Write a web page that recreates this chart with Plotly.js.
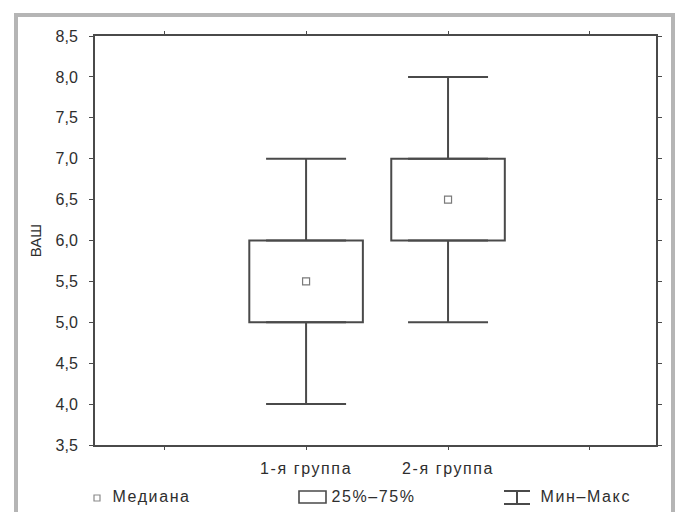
<!DOCTYPE html>
<html>
<head>
<meta charset="utf-8">
<script src="https://cdn.plot.ly/plotly-3.0.1.min.js"></script>
<style>
  html, body { margin: 0; padding: 0; background: #fff; overflow: hidden; }
  #wrap { position: relative; width: 681px; height: 512px; }
  #chart { position: absolute; left: 0; top: 0; width: 681px; height: 512px; }
  #frame { position: absolute; left: 14px; top: 13px; width: 653px; height: 520px;
           border: 4px solid #b5b5b5; pointer-events: none; }
  #chart .xtick text, #chart .annotation-text { letter-spacing: 1.6px; }
</style>
</head>
<body>
<div id="wrap">
  <div id="chart"></div>
  <div id="frame"></div>
</div>
<script>
// ---- data ----
const categories = ['1-я группа', '2-я группа'];
const minVals    = [4.0, 5.0];
const q1Vals     = [5.0, 6.0];
const medianVals = [5.5, 6.5];
const q3Vals     = [6.0, 7.0];
const maxVals    = [7.0, 8.0];
const yTickVals  = [3.5, 4.0, 4.5, 5.0, 5.5, 6.0, 6.5, 7.0, 7.5, 8.0, 8.5];
const yTitle     = 'ВАШ';
const legendLabels = ['Медиана', '25%–75%', 'Мин–Макс'];

// ---- layout constants ----
const W = 681, H = 512;
const M = { l: 95, r: 25, t: 36, b: 67 };
const PW = W - M.l - M.r, PH = H - M.t - M.b;
const px2x = p => (p - M.l) / PW;
const px2y = p => (H - M.b - p) / PH;

const lineCol = '#4a4a4a';
const textCol = '#2e2e2e';
const FONT = 'Liberation Sans, Arial, sans-serif';

const xs = categories.map((c, i) => i);

const traces = [
  { // interquartile boxes
    type: 'bar', x: xs, base: q1Vals,
    y: q3Vals.map((v, i) => v - q1Vals[i]),
    width: 0.8,
    marker: { color: '#ffffff', line: { color: lineCol, width: 2 } },
    hoverinfo: 'skip', showlegend: false
  },
  { // upper whisker
    type: 'scatter', mode: 'markers', x: xs, y: q3Vals,
    marker: { color: 'rgba(0,0,0,0)', size: 1 },
    error_y: { type: 'data', symmetric: false,
               array: maxVals.map((v, i) => v - q3Vals[i]),
               arrayminus: q3Vals.map(() => 0),
               width: 40, thickness: 2, color: lineCol },
    hoverinfo: 'skip', showlegend: false
  },
  { // lower whisker
    type: 'scatter', mode: 'markers', x: xs, y: q1Vals,
    marker: { color: 'rgba(0,0,0,0)', size: 1 },
    error_y: { type: 'data', symmetric: false,
               array: q1Vals.map(() => 0),
               arrayminus: q1Vals.map((v, i) => v - minVals[i]),
               width: 40, thickness: 2, color: lineCol },
    hoverinfo: 'skip', showlegend: false
  },
  { // medians
    type: 'scatter', mode: 'markers', x: xs, y: medianVals,
    marker: { symbol: 'square-open', size: 7, color: '#7a7a7a', line: { width: 1.2, color: '#7a7a7a' } },
    hoverinfo: 'skip', showlegend: false
  }
];

// custom legend (bottom row)
const legY = 497;
const shapes = [
  { type: 'rect', xref: 'paper', yref: 'paper',
    x0: px2x(94), x1: px2x(100), y0: px2y(501), y1: px2y(495),
    line: { color: '#8a8a8a', width: 1.2 }, fillcolor: 'rgba(0,0,0,0)' },
  { type: 'rect', xref: 'paper', yref: 'paper',
    x0: px2x(299), x1: px2x(326), y0: px2y(503), y1: px2y(491),
    line: { color: lineCol, width: 1.6 }, fillcolor: '#ffffff' },
  { type: 'line', xref: 'paper', yref: 'paper',
    x0: px2x(517), x1: px2x(517), y0: px2y(504), y1: px2y(491),
    line: { color: lineCol, width: 2 } },
  { type: 'line', xref: 'paper', yref: 'paper',
    x0: px2x(504), x1: px2x(530), y0: px2y(491), y1: px2y(491),
    line: { color: lineCol, width: 2 } },
  { type: 'line', xref: 'paper', yref: 'paper',
    x0: px2x(504), x1: px2x(530), y0: px2y(504), y1: px2y(504),
    line: { color: lineCol, width: 2 } }
];
const legX = [116, 335, 545];
const annotations = legendLabels.map((t, i) => ({
  text: t, xref: 'paper', yref: 'paper', x: px2x(legX[i]), y: px2y(legY),
  xanchor: 'left', yanchor: 'middle', showarrow: false,
  font: { family: FONT, size: 16, color: textCol }
}));

const layout = {
  width: W, height: H,
  margin: M,
  paper_bgcolor: '#ffffff', plot_bgcolor: '#ffffff',
  separators: ', ',
  showlegend: false,
  font: { family: FONT, size: 16, color: textCol },
  xaxis: {
    range: [-1.487, 2.465],
    tickmode: 'array', tickvals: [-1, 0, 1, 2],
    ticktext: ['', categories[0], categories[1], ''],
    ticks: 'outside', ticklen: 3, tickcolor: lineCol, tickwidth: 1,
    showline: true, linecolor: lineCol, linewidth: 2, mirror: 'allticks',
    showgrid: false, zeroline: false, fixedrange: true,
    ticklabelstandoff: 5,
    tickfont: { family: FONT, size: 16, color: textCol }
  },
  yaxis: {
    range: [3.5, 8.5],
    tickmode: 'array', tickvals: yTickVals, tickformat: '.1f',
    ticks: 'outside', ticklen: 4, tickcolor: lineCol, tickwidth: 1,
    showline: true, linecolor: lineCol, linewidth: 2, mirror: 'allticks',
    showgrid: false, zeroline: false, fixedrange: true,
    ticklabelstandoff: 8,
    tickfont: { family: FONT, size: 16, color: textCol },
    title: { text: yTitle, standoff: 10, font: { family: FONT, size: 15, color: textCol } }
  },
  shapes: shapes,
  annotations: annotations
};

Plotly.newPlot('chart', traces, layout, { staticPlot: true, displayModeBar: false });
</script>
</body>
</html>
